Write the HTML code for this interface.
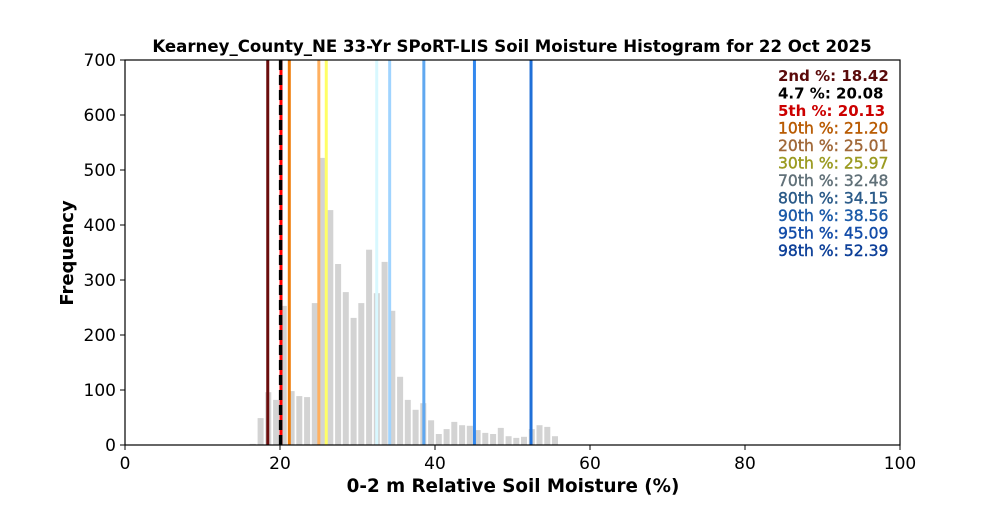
<!DOCTYPE html>
<html><head><meta charset="utf-8"><style>
body{margin:0;background:#fff}
svg text{font-family:"DejaVu Sans","Liberation Sans",sans-serif}
</style></head><body>
<svg width="1000" height="500" viewBox="0 0 1000 500" xmlns="http://www.w3.org/2000/svg">
<rect width="1000" height="500" fill="#fff"/>
<g id="bars" fill="#d3d3d3"></g>
<g id="lines"></g>
<rect x="125" y="60" width="775" height="385" fill="none" stroke="#000" stroke-width="1.2"/>
<g font-size="17" fill="#000" text-anchor="middle">
<text x="125" y="469">0</text><text x="280" y="469">20</text><text x="435" y="469">40</text><text x="590" y="469">60</text><text x="745" y="469">80</text><text x="900" y="469">100</text>
</g>
<g stroke="#000" stroke-width="1">
<line x1="125" y1="445" x2="125" y2="450"/><line x1="280" y1="445" x2="280" y2="450"/><line x1="435" y1="445" x2="435" y2="450"/><line x1="590" y1="445" x2="590" y2="450"/><line x1="745" y1="445" x2="745" y2="450"/><line x1="900" y1="445" x2="900" y2="450"/>
<line x1="120" y1="445" x2="125" y2="445"/><line x1="120" y1="390" x2="125" y2="390"/><line x1="120" y1="335" x2="125" y2="335"/><line x1="120" y1="280" x2="125" y2="280"/><line x1="120" y1="225" x2="125" y2="225"/><line x1="120" y1="170" x2="125" y2="170"/><line x1="120" y1="115" x2="125" y2="115"/><line x1="120" y1="60" x2="125" y2="60"/>
</g>
<g font-size="17" fill="#000" text-anchor="end">
<text x="116" y="451">0</text><text x="116" y="396">100</text><text x="116" y="341">200</text><text x="116" y="286">300</text><text x="116" y="231">400</text><text x="116" y="176">500</text><text x="116" y="121">600</text><text x="116" y="66">700</text>
</g>
<text x="512" y="52" font-size="16.6" font-weight="bold" text-anchor="middle">Kearney_County_NE 33-Yr SPoRT-LIS Soil Moisture Histogram for 22 Oct 2025</text>
<text x="513" y="492" font-size="18.3" font-weight="bold" text-anchor="middle">0-2 m Relative Soil Moisture (%)</text>
<text transform="translate(73,253) rotate(-90)" font-size="18" font-weight="bold" text-anchor="middle">Frequency</text>
<g id="leg"></g>
</svg>
<script>
var vals=[2,49,96,82,253,98,89,87,258,522,427,329,278,231,258,355,276,333,244,124,82,64,76,45,20,29,42,36,35,27,22,20,31,16,13,15,29,36,33,16];
var b=document.getElementById('bars'),s='';
vals.forEach(function(v,i){var x=125+7.75*(16+i)+0.8,h=v*0.55;s+='<rect x="'+x.toFixed(1)+'" y="'+(445-h).toFixed(1)+'" width="6" height="'+h.toFixed(1)+'"/>';});
b.innerHTML=s;
var L=[[18.42,'#6b0d0d','2nd %: 18.42','#5a0a0a'],[20.08,'#000','4.7 %: 20.08','#000'],[20.13,'#ff0000','5th %: 20.13','#cc0000'],[21.20,'#ee7d0a','10th %: 21.20','#b85a00'],[25.01,'#ffb060','20th %: 25.01','#a06838'],[25.97,'#ffff66','30th %: 25.97','#9a9a20'],[32.48,'#d8f8ff','70th %: 32.48','#607078'],[34.15,'#a0d4ff','80th %: 34.15','#2a5a88'],[38.56,'#60a8f0','90th %: 38.56','#1a5aa8'],[45.09,'#3388ee','95th %: 45.09','#124ca8'],[52.39,'#2070d8','98th %: 52.39','#0c3f98']];
var ls='',lg='';
[0,3,4,5,6,7,8,9,10,2].forEach(function(k){var x=125+7.75*L[k][0];ls+='<line x1="'+x+'" y1="60" x2="'+x+'" y2="445" stroke="'+L[k][1]+'" stroke-width="3"/>';});
var x1=125+7.75*20.08;ls+='<line x1="'+x1+'" y1="60" x2="'+x1+'" y2="445" stroke="#000" stroke-width="3.5" stroke-dasharray="10,5"/>';
document.getElementById('lines').innerHTML=ls;
L.forEach(function(l,i){lg+='<text x="778" y="'+(81+17.5*i)+'" fill="'+l[3]+'" font-size="'+(i<3?15:15.6)+'"'+(i<3?' font-weight="bold"':' stroke="'+l[3]+'" stroke-width="0.4"')+'>'+l[2]+'</text>';});
document.getElementById('leg').innerHTML=lg;
</script>
</body></html>
